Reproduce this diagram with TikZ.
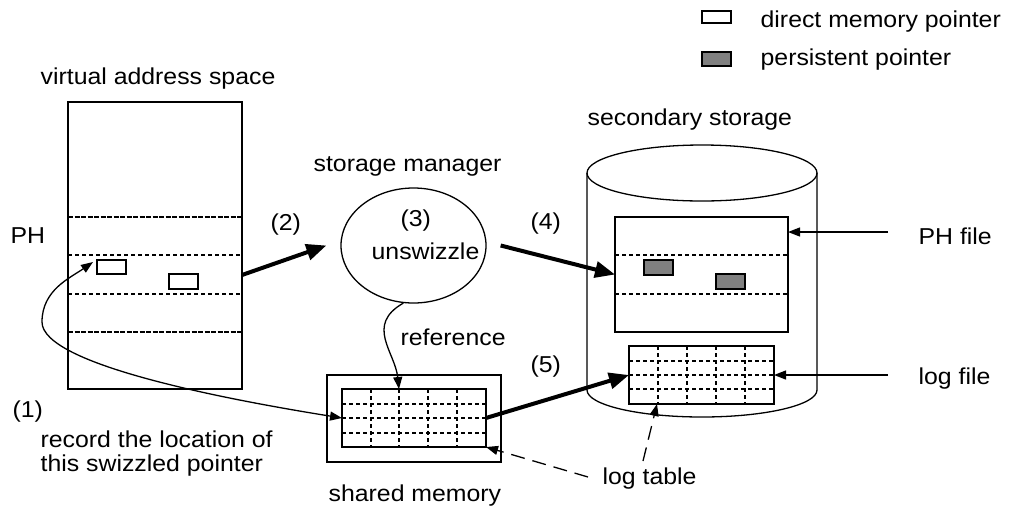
\documentclass[tikz,border=0pt]{standalone}
\usepackage{fontspec}
\setmainfont{Liberation Sans}[FakeStretch=1.08]
\usetikzlibrary{arrows.meta,shapes.geometric,calc}
\newcommand\mybox[6][]{%
  \pgfmathsetmacro\bxc{(#3+#5)/2}\pgfmathsetmacro\byc{(#4+#6)/2}%
  \pgfmathsetmacro\bw{#5-#3}\pgfmathsetmacro\bh{#6-#4}%
  \node[rect,#1,minimum width=\bw pt,minimum height=\bh pt] (#2) at (\bxc,\byc) {};}
\begin{document}
\begin{tikzpicture}[x=1pt,y=-1pt,line width=1.3pt,
  rect/.style={draw,rectangle,inner sep=0pt,outer sep=0pt},
  lab/.style={anchor=base west,inner sep=0pt,font=\fontsize{23}{26}\selectfont},
  gridln/.style={line width=1.2pt,dash pattern=on 4pt off 3pt},
  phedge/.style={line width=1.3pt,dash pattern=on 5pt off 1.5pt},
  bigarrow/.style={line width=4pt,-{Triangle[length=20pt,width=16pt]}},
  thinarrow/.style={line width=1.3pt,-{Triangle[length=12pt,width=9pt]}},
  dasharrow/.style={line width=1.3pt,dash pattern=on 14pt off 8pt,-{Triangle[length=12pt,width=9pt]}},
  tipb/.tip={Triangle[length=12pt,width=9pt]}
]
\useasboundingbox[fill=white] (0,0) rectangle (1011,507);

% legend
\mybox[fill=white]{legA}{702}{11}{731}{23}
\mybox[fill=gray]{legB}{702}{52}{731}{66}
\node[lab] (legAt) at (760,27) {direct memory pointer};
\node[lab] (legBt) at (760,65) {persistent pointer};

% virtual address space
\node[lab] (vaslab) at (40,84) {virtual address space};
\mybox{vas}{68}{102}{242}{389}
\draw[phedge] (vas.west |- 0,217) -- (vas.east |- 0,217);
\draw[phedge] (vas.west |- 0,332) -- (vas.east |- 0,332);
\draw[gridln] (vas.west |- 0,255) -- (vas.east |- 0,255);
\draw[gridln] (vas.west |- 0,294) -- (vas.east |- 0,294);
\mybox[fill=white]{ptrA}{97}{260}{126}{274}
\mybox[fill=white]{ptrB}{169}{274}{198}{289}
\node[lab] (phlab) at (10,243) {PH};

% storage manager
\node[lab] (smlab) at (313,171) {storage manager};
\node[draw,ellipse,minimum width=145pt,minimum height=115pt,inner sep=0pt] (sm) at (413.5,245.5) {};
\node[lab] (three) at (400,226) {(3)};
\node[lab] (unsw) at (371,259) {unswizzle};

% shared memory
\mybox{shmo}{327}{375}{501}{462}
\mybox{shtab}{342}{389}{486}{447}
\foreach \x in {371,399,428,457} \draw[gridln] (\x,389) -- (\x,447);
\foreach \y in {404,418,433} \draw[gridln] (342,\y) -- (486,\y);
\node[lab] (shlab) at (328,501) {shared memory};
\node[lab] (reflab) at (400,345) {reference};

% secondary storage
\node[lab] (sslab) at (587,125) {secondary storage};
\draw (587,173) -- (587,390) arc[start angle=180,end angle=360,x radius=115pt,y radius=27pt] -- (817,173);
\draw (702,173) ellipse[x radius=115pt,y radius=28pt];
\mybox{phfile}{615}{217}{788}{332}
\draw[gridln] (phfile.west |- 0,255) -- (phfile.east |- 0,255);
\draw[gridln] (phfile.west |- 0,294) -- (phfile.east |- 0,294);
\mybox[fill=gray]{gA}{644}{260}{673}{275}
\mybox[fill=gray]{gB}{716}{274}{745}{289}
\mybox{logtab}{629}{346}{774}{404}
\foreach \x in {658,687,716,745} \draw[gridln] (\x,346) -- (\x,404);
\foreach \y in {361,375,389} \draw[gridln] (629,\y) -- (774,\y);

% step labels
\node[lab] (two) at (270,230) {(2)};
\node[lab] (four) at (530,229) {(4)};
\node[lab] (five) at (530,372) {(5)};
\node[lab] (one) at (12,417) {(1)};
\node[lab] (rec1) at (40,447) {record the location of};
\node[lab] (rec2) at (40,471) {this swizzled pointer};

% right labels
\node[lab] (phflab) at (918,244) {PH file};
\node[lab] (lflab) at (918,384) {log file};
\node[lab] (ltlab) at (602,484) {log table};

% thick arrows
\draw[bigarrow] ([yshift=-29.5pt]vas.east) -- ([xshift=-14pt]sm.west);
\draw[bigarrow] ([xshift=14pt]sm.east) -- (phfile.west);
\draw[bigarrow] (shtab.east) -- (logtab.west);

% reference
\draw[thinarrow] (sm.260) .. controls (365,325) and (395,352) .. ([xshift=-15pt]shtab.north);

% (1) curve
\draw[tipb-tipb] (shtab.west) .. controls (230,400) and (42,365) .. (42,322)
  .. controls (42,290) and (70,278) .. ($(ptrA.north west)+(-4,2)$);

% right arrows
\coordinate (phs) at (888,232);
\draw[thinarrow] (phs) -- (phs -| phfile.east);
\coordinate (lfs) at (888,375);
\draw[thinarrow] (lfs) -- (lfs -| logtab.east);

% log table dashed arrows
\coordinate (lt1) at (643,461);
\draw[dasharrow] (lt1) -- ($(logtab.south west)+(28,0)$);
\coordinate (lt2) at (588,477);
\draw[dasharrow] (lt2) -- (shtab.south east);
\end{tikzpicture}
\end{document}
